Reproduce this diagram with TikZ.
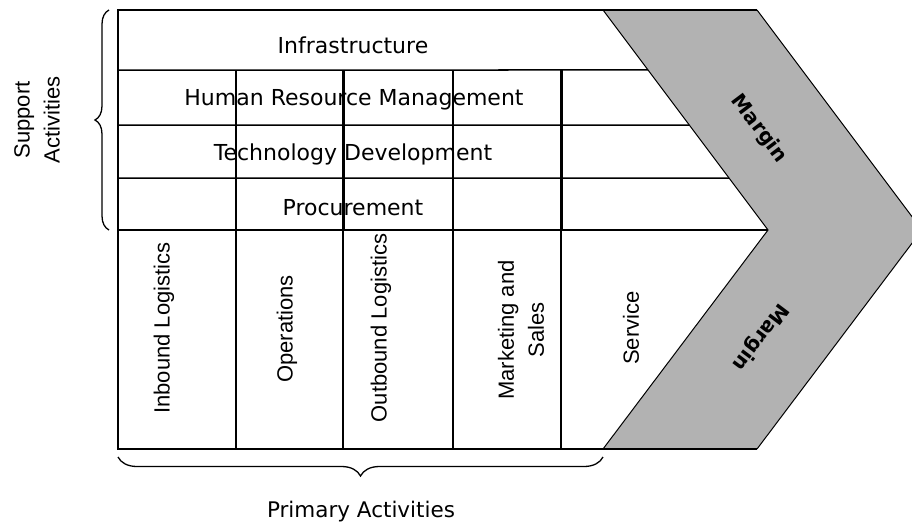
\documentclass[tikz,border=0pt]{standalone}
\usepackage{fontspec}
\setmainfont{DejaVu Sans}
\newfontfamily\arialfont{Liberation Sans}
\usetikzlibrary{calc,decorations.pathreplacing}

\begin{document}
\begin{tikzpicture}[
  x=1pt, y=-1pt,
  every node/.style={inner sep=0pt},
  band/.style={font=\fontsize{22}{26}\selectfont, anchor=base},
  prim/.style={font=\arialfont\fontsize{22}{30}\selectfont, rotate=90, align=center},
  marg/.style={font=\bfseries\fontsize{20}{24}\selectfont},
  rule/.style={line width=1.5pt},
  heavy/.style={line width=3pt},
  brc/.style={decorate, decoration={brace, amplitude=#1}, line width=1.3pt}
]
\path[use as bounding box, clip] (0,0) rectangle (912,522);

% corners of the frame and the margin arrow
\coordinate (tl) at (118,10);
\coordinate (ti) at (603,10);
\coordinate (to) at (757,10);
\coordinate (mi) at (768,230);
\coordinate (mo) at (922,230);
\coordinate (bi) at (603,449);
\coordinate (bo) at (757,449);
\coordinate (bl) at (118,449);

\fill[gray!60] (ti) -- (to) -- (mo) -- (bo) -- (bi) -- (mi) -- cycle;
\draw[line width=1pt] (ti) -- (mi) -- (bi);
\draw[line width=1pt] (to) -- (mo) -- (bo);
\draw[rule] (ti) -- (tl) -- (bl) -- (bi);
\draw[rule] (to) -- (ti);
\draw[rule] (bi) -- (bo);

% support activities
\node[band] (infra) at (353,53) {Infrastructure};
\node[band] (hrm) at (354,105) {Human Resource Management};
\node[band] (tech) at (353,160) {Technology Development};
\node[band] (proc) at (353,215) {Procurement};

\foreach \y in {70,125,178}
  \draw[rule] (118,\y) -- ($(ti)!{(\y-10)/220}!(mi)$);
\draw[rule] (tl |- mi) -- (mi);

% primary activities
\node[prim] (inbound) at (164,328) {Inbound Logistics};
\node[prim] (ops) at (287,329) {Operations};
\node[prim] (outbound) at (381,328) {Outbound Logistics};
\node[prim] (mkt) at (521,330) {Marketing and\\Sales};
\node[prim] (service) at (631,328) {Service};

\foreach \x in {236,453}
  \draw[rule] (\x,70) -- (\x,449);
\foreach \x in {343,561} {
  \draw[heavy] (\x,70) -- (\x,230);
  \draw[rule] (\x,230) -- (\x,449);
}

\node[marg, rotate=-53] (mtop) at (759,129) {Margin};
\node[marg, rotate=-127] (mbot) at (760,337) {Margin};

% braces
\draw[brc=14] (109,230) -- (109,10);
\node[prim] (support) at (37,120) {Support\\Activities};
\draw[brc=19] (603,457) -- (118,457);
\node[band, font=\fontsize{21.5}{26}\selectfont] (primary) at (361,517) {Primary Activities};
\end{tikzpicture}
\end{document}
